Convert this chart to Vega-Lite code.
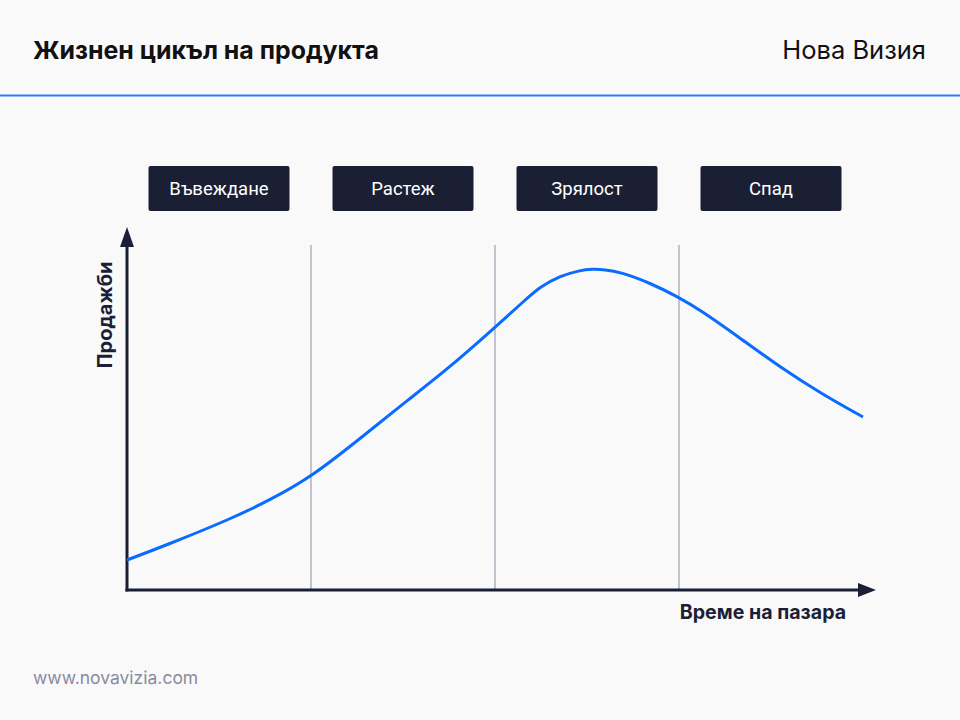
{
  "$schema": "https://vega.github.io/schema/vega-lite/v6.json",
  "width": 960,
  "height": 720,
  "autosize": {"type": "none"},
  "padding": 0,
  "background": "#f9f9f9",
  "config": {"view": {"stroke": null}},
  "datasets": {
    "one": [{}],
    "curve": [
      {"t": 0, "sales": 7.5},
      {"t": 5.4, "sales": 11.25},
      {"t": 14.4, "sales": 18},
      {"t": 19.4, "sales": 22.5},
      {"t": 25.1, "sales": 28.25},
      {"t": 32.6, "sales": 39.25},
      {"t": 38.0, "sales": 47.25},
      {"t": 43.9, "sales": 55.75},
      {"t": 49.9, "sales": 65.5},
      {"t": 54.1, "sales": 72.5},
      {"t": 56.1, "sales": 75.75},
      {"t": 58.8, "sales": 78.5},
      {"t": 61.5, "sales": 79.9},
      {"t": 63.2, "sales": 80.25},
      {"t": 64.9, "sales": 80.1},
      {"t": 67.0, "sales": 79.5},
      {"t": 71.1, "sales": 76.75},
      {"t": 74.9, "sales": 73.25},
      {"t": 77.9, "sales": 70},
      {"t": 83.3, "sales": 63},
      {"t": 88.7, "sales": 55.75},
      {"t": 94.2, "sales": 49.25},
      {"t": 100, "sales": 43.25}
    ],
    "phases": [
      {"phase": "Въвеждане", "mid": 12.5},
      {"phase": "Растеж", "mid": 37.5},
      {"phase": "Зрялост", "mid": 62.5},
      {"phase": "Спад", "mid": 87.5}
    ],
    "bounds": [{"t": 25}, {"t": 50}, {"t": 75}]
  },
  "layer": [
    {
      "data": {"name": "one"},
      "mark": {"type": "rule", "color": "#2f7cf6", "strokeWidth": 2},
      "encoding": {
        "x": {"datum": -17.3, "type": "quantitative", "scale": {"domain": [-17.255, 113.179], "nice": false, "zero": false}, "axis": null},
        "x2": {"datum": 113.2},
        "y": {"datum": 123.6, "type": "quantitative", "scale": {"domain": [-32.5, 147.5], "nice": false, "zero": false}, "axis": null}
      }
    },
    {
      "data": {"name": "one"},
      "mark": {"type": "text", "font": "Inter", "fontSize": 24.9, "fontWeight": "bold", "color": "#111111", "align": "left", "baseline": "alphabetic"},
      "encoding": {
        "x": {"datum": -12.77, "type": "quantitative"},
        "y": {"datum": 132.75, "type": "quantitative"},
        "text": {"value": "Жизнен цикъл на продукта"}
      }
    },
    {
      "data": {"name": "one"},
      "mark": {"type": "text", "font": "Inter", "fontSize": 25.5, "fontWeight": "normal", "color": "#111111", "align": "right", "baseline": "alphabetic"},
      "encoding": {
        "x": {"datum": 108.56, "type": "quantitative"},
        "y": {"datum": 132.75, "type": "quantitative"},
        "text": {"value": "Нова Визия"}
      }
    },
    {
      "data": {"name": "bounds"},
      "mark": {"type": "rule", "color": "#8b8da3", "strokeWidth": 1},
      "encoding": {
        "x": {"field": "t", "type": "quantitative"},
        "y": {"datum": 0, "type": "quantitative"},
        "y2": {"datum": 86.25}
      }
    },
    {
      "data": {"name": "one"},
      "mark": {"type": "rule", "color": "#1b1f35", "strokeWidth": 3, "strokeCap": "square"},
      "encoding": {
        "x": {"datum": 0, "type": "quantitative"},
        "y": {"datum": 0, "type": "quantitative"},
        "y2": {"datum": 87.5}
      }
    },
    {
      "data": {"name": "one"},
      "mark": {"type": "rule", "color": "#1b1f35", "strokeWidth": 3, "strokeCap": "square"},
      "encoding": {
        "x": {"datum": 0, "type": "quantitative"},
        "x2": {"datum": 99.6},
        "y": {"datum": 0, "type": "quantitative"}
      }
    },
    {
      "data": {"name": "one"},
      "mark": {"type": "point", "shape": "M-0.7,1L0,-1L0.7,1Z", "size": 400, "filled": true, "opacity": 1, "color": "#1b1f35", "strokeWidth": 0},
      "encoding": {
        "x": {"datum": 0, "type": "quantitative"},
        "y": {"datum": 88.25, "type": "quantitative"}
      }
    },
    {
      "data": {"name": "one"},
      "mark": {"type": "point", "shape": "M-0.9,-0.7L0.9,0L-0.9,0.7Z", "size": 400, "filled": true, "opacity": 1, "color": "#1b1f35", "strokeWidth": 0},
      "encoding": {
        "x": {"datum": 100.54, "type": "quantitative"},
        "y": {"datum": 0, "type": "quantitative"}
      }
    },
    {
      "data": {"name": "curve"},
      "mark": {"type": "line", "interpolate": "basis", "color": "#0a6cff", "strokeWidth": 3},
      "encoding": {
        "x": {"field": "t", "type": "quantitative"},
        "y": {"field": "sales", "type": "quantitative"}
      }
    },
    {
      "data": {"name": "phases"},
      "mark": {"type": "rect", "width": 141, "height": 45, "cornerRadius": 2, "color": "#1b1f33"},
      "encoding": {
        "x": {"field": "mid", "type": "quantitative"},
        "y": {"datum": 100.375, "type": "quantitative"}
      }
    },
    {
      "data": {"name": "phases"},
      "mark": {"type": "text", "font": "Roboto", "fontSize": 18.5, "color": "#ffffff", "align": "center", "baseline": "middle"},
      "encoding": {
        "x": {"field": "mid", "type": "quantitative"},
        "y": {"datum": 100.375, "type": "quantitative"},
        "text": {"field": "phase"}
      }
    },
    {
      "data": {"name": "one"},
      "mark": {"type": "text", "font": "Inter", "fontSize": 20, "fontWeight": "bold", "color": "#1b1f35", "angle": 270, "align": "center", "baseline": "middle"},
      "encoding": {
        "x": {"datum": -2.9, "type": "quantitative"},
        "y": {"datum": 68.75, "type": "quantitative"},
        "text": {"value": "Продажби"}
      }
    },
    {
      "data": {"name": "one"},
      "mark": {"type": "text", "font": "Inter", "fontSize": 19.6, "fontWeight": "bold", "color": "#1b1f35", "align": "right", "baseline": "alphabetic"},
      "encoding": {
        "x": {"datum": 97.7, "type": "quantitative"},
        "y": {"datum": -7.25, "type": "quantitative"},
        "text": {"value": "Време на пазара"}
      }
    },
    {
      "data": {"name": "one"},
      "mark": {"type": "text", "font": "Inter", "fontSize": 17.5, "color": "#8a8b9e", "align": "left", "baseline": "alphabetic"},
      "encoding": {
        "x": {"datum": -12.77, "type": "quantitative"},
        "y": {"datum": -23.5, "type": "quantitative"},
        "text": {"value": "www.novavizia.com"}
      }
    }
  ]
}
